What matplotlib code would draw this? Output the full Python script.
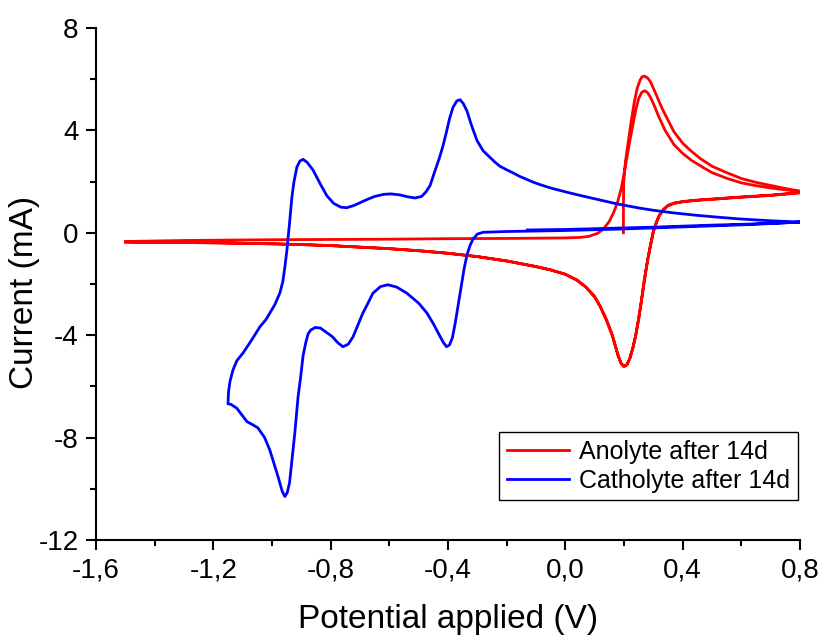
import matplotlib
matplotlib.use("Agg")
import matplotlib.pyplot as plt
from matplotlib.ticker import MultipleLocator, FuncFormatter

# Anolyte CV: start at 0.2 V, two sweeps between 0.8 V and -1.5 V
anolyte_v = [
    0.198, 0.198, 0.199, 0.205, 0.215, 0.225, 0.235, 0.245, 0.255, 0.262, 0.27, 0.28, 0.29, 0.30,
    0.315, 0.33, 0.35, 0.37, 0.40, 0.425, 0.46, 0.50, 0.55, 0.60, 0.65, 0.70, 0.75, 0.80,
    0.80, 0.75, 0.70, 0.60, 0.50, 0.44, 0.40, 0.37, 0.35, 0.335, 0.32, 0.31, 0.30, 0.29, 0.28,
    0.27, 0.26, 0.25, 0.24, 0.23, 0.22, 0.21, 0.20, 0.19, 0.18, 0.17, 0.16, 0.14, 0.12, 0.10,
    0.07, 0.04, 0.0, -0.05, -0.1, -0.2, -0.3, -0.4, -0.5, -0.6, -0.7, -0.8, -0.9, -1.0, -1.1,
    -1.2, -1.3, -1.4, -1.5,
    -1.5, -1.4, -1.3, -1.2, -1.0, -0.8, -0.6, -0.4, -0.2, 0.0, 0.05, 0.08, 0.11, 0.13, 0.15,
    0.165, 0.178, 0.19, 0.20, 0.21, 0.22, 0.23, 0.24, 0.25, 0.26, 0.27, 0.28, 0.29, 0.30, 0.32,
    0.34, 0.37, 0.40, 0.43, 0.47, 0.50, 0.55, 0.60, 0.65, 0.70, 0.75, 0.80,
    0.80, 0.75, 0.70, 0.60, 0.50, 0.44, 0.40, 0.37, 0.35, 0.335, 0.32, 0.31, 0.30, 0.29, 0.28,
    0.27, 0.26, 0.25, 0.24, 0.23, 0.22, 0.21, 0.20, 0.19, 0.18, 0.17, 0.16, 0.14, 0.12, 0.10,
    0.07, 0.04, 0.0, -0.05, -0.1, -0.2, -0.3, -0.4, -0.5, -0.6, -0.7, -0.8, -0.9, -1.0, -1.1,
    -1.2, -1.3, -1.4, -1.5,
]
anolyte_i = [
    0.0, 1.0, 2.0, 2.8, 3.6, 4.4, 5.1, 5.65, 5.97, 6.1, 6.12, 6.05, 5.9, 5.65,
    5.25, 4.85, 4.4, 3.95, 3.5, 3.23, 2.9, 2.6, 2.35, 2.12, 1.97, 1.85, 1.73, 1.63,
    1.58, 1.52, 1.47, 1.40, 1.32, 1.27, 1.22, 1.16, 1.07, 0.92, 0.68, 0.4, 0.05, -0.5, -1.1,
    -1.8, -2.6, -3.35, -4.0, -4.5, -4.9, -5.15, -5.22, -5.1, -4.8, -4.4, -4.0, -3.4, -2.9, -2.5,
    -2.12, -1.85, -1.62, -1.45, -1.32, -1.1, -0.93, -0.8, -0.7, -0.62, -0.56, -0.5, -0.46, -0.43, -0.41,
    -0.39, -0.38, -0.37, -0.36,
    -0.34, -0.32, -0.30, -0.29, -0.27, -0.26, -0.25, -0.23, -0.22, -0.20, -0.18, -0.14, -0.02, 0.15, 0.45,
    0.8, 1.2, 1.7, 2.3, 2.95, 3.6, 4.2, 4.8, 5.25, 5.48, 5.55, 5.48, 5.3, 5.05, 4.5,
    4.0, 3.45, 3.1, 2.83, 2.55, 2.35, 2.13, 1.95, 1.84, 1.75, 1.68, 1.61,
    1.56, 1.51, 1.46, 1.39, 1.31, 1.26, 1.21, 1.15, 1.06, 0.91, 0.67, 0.39, 0.04, -0.5, -1.1,
    -1.8, -2.6, -3.35, -4.0, -4.5, -4.9, -5.15, -5.22, -5.1, -4.8, -4.4, -4.0, -3.4, -2.9, -2.5,
    -2.12, -1.85, -1.62, -1.45, -1.32, -1.1, -0.93, -0.8, -0.7, -0.62, -0.56, -0.5, -0.46, -0.43, -0.41,
    -0.39, -0.38, -0.37, -0.36,
]

# Catholyte CV: start near -0.13 V, sweep to 0.8 V, down to -1.15 V, back to 0.8 V
catholyte_v = [
    -0.13, -0.05, 0.0, 0.1, 0.2, 0.3, 0.4, 0.5, 0.6, 0.7, 0.8,
    0.7, 0.6, 0.5, 0.4, 0.3, 0.2, 0.1, 0.0, -0.1, -0.2, -0.25, -0.28,
    -0.30, -0.315, -0.325, -0.335, -0.345, -0.355, -0.365, -0.375, -0.385, -0.395, -0.405,
    -0.415, -0.427, -0.45, -0.472, -0.50, -0.54, -0.575, -0.605, -0.63, -0.656, -0.675, -0.69,
    -0.707, -0.724, -0.74, -0.758, -0.775, -0.795, -0.813, -0.835, -0.853, -0.868, -0.877,
    -0.885, -0.894, -0.903, -0.911, -0.922, -0.932, -0.94, -0.948, -0.956, -0.965, -0.98,
    -0.995, -1.007, -1.025, -1.048, -1.065, -1.085, -1.10, -1.12, -1.14, -1.15,
    -1.148, -1.143, -1.133, -1.12, -1.099, -1.07, -1.041, -1.02, -1.007, -0.99, -0.973,
    -0.963, -0.956, -0.949, -0.945, -0.94, -0.932, -0.925, -0.915, -0.905, -0.894, -0.88,
    -0.86, -0.835, -0.813, -0.79, -0.765, -0.745, -0.72, -0.695, -0.676, -0.65, -0.62,
    -0.595, -0.564, -0.535, -0.512, -0.49, -0.475, -0.461, -0.445, -0.43, -0.417, -0.405,
    -0.395, -0.383, -0.37, -0.359, -0.348, -0.335, -0.32, -0.301, -0.28, -0.257, -0.24, -0.223,
    -0.2, -0.18, -0.155, -0.13, -0.11, -0.086, -0.05, 0.0, 0.05, 0.1, 0.14, 0.176, 0.25, 0.3,
    0.367, 0.45, 0.52, 0.596, 0.7, 0.8,
]
catholyte_i = [
    0.11, 0.12, 0.13, 0.16, 0.19, 0.22, 0.26, 0.30, 0.33, 0.37, 0.42,
    0.36, 0.31, 0.27, 0.23, 0.19, 0.15, 0.12, 0.09, 0.07, 0.05, 0.03, 0.02,
    -0.05, -0.25, -0.5, -0.85, -1.4, -2.1, -2.8, -3.5, -4.1, -4.38, -4.45,
    -4.3, -4.05, -3.55, -3.13, -2.75, -2.36, -2.12, -2.03, -2.1, -2.36, -2.8, -3.13,
    -3.6, -4.07, -4.35, -4.45, -4.3, -4.05, -3.9, -3.72, -3.7, -3.8, -3.95,
    -4.3, -4.8, -5.7, -6.4, -7.8, -8.9, -9.75, -10.15, -10.3, -10.1, -9.5,
    -8.95, -8.5, -8.0, -7.62, -7.5, -7.38, -7.15, -6.85, -6.7, -6.68,
    -6.2, -5.8, -5.36, -5.0, -4.7, -4.2, -3.67, -3.38, -3.13, -2.8, -2.35,
    -1.9, -1.33, -0.67, -0.2, 0.4, 1.4, 2.0, 2.57, 2.8, 2.87, 2.75,
    2.45, 1.9, 1.45, 1.15, 1.0, 0.98, 1.07, 1.2, 1.3, 1.42, 1.5,
    1.52, 1.48, 1.4, 1.36, 1.42, 1.6, 1.85, 2.4, 2.9, 3.4, 3.95,
    4.45, 4.9, 5.15, 5.2, 5.05, 4.75, 4.2, 3.6, 3.2, 2.95, 2.76, 2.6,
    2.46, 2.35, 2.2, 2.08, 1.98, 1.88, 1.75, 1.6, 1.46, 1.33, 1.23, 1.13, 0.97, 0.88,
    0.78, 0.68, 0.61, 0.54, 0.47, 0.42,
]

x_ticks = [-1.6, -1.2, -0.8, -0.4, 0.0, 0.4, 0.8]
y_ticks = [-12, -8, -4, 0, 4, 8]

plt.rcParams["font.family"] = ["Liberation Sans", "DejaVu Sans"]

fig = plt.figure(figsize=(8.23, 6.39), dpi=100)
ax = fig.add_axes([0.1166, 0.1549, 0.8555, 0.8013])

ax.plot(anolyte_v, anolyte_i, color="#ff0000", lw=2.0, label="Anolyte after 14d",
        solid_joinstyle="round")
ax.plot(catholyte_v, catholyte_i, color="#0000ff", lw=2.0, label="Catholyte after 14d",
        solid_joinstyle="round")

ax.set_xlim(-1.6, 0.8)
ax.set_ylim(-12, 8)
ax.set_xticks(x_ticks)
ax.set_yticks(y_ticks)
ax.xaxis.set_minor_locator(MultipleLocator(0.2))
ax.yaxis.set_minor_locator(MultipleLocator(2))
ax.xaxis.set_major_formatter(FuncFormatter(lambda v, p: f"{v:.1f}".replace(".", ",").replace("-0,0", "0,0")))
ax.yaxis.set_major_formatter(FuncFormatter(lambda v, p: f"{v:.0f}"))

for side in ("top", "right"):
    ax.spines[side].set_visible(False)
for side in ("left", "bottom"):
    ax.spines[side].set_linewidth(1.5)

ax.tick_params(which="major", direction="out", length=7.5, width=1.5, labelsize=20)
ax.tick_params(axis="x", which="major", pad=5)
ax.tick_params(axis="y", which="major", pad=5)
ax.tick_params(which="minor", direction="out", length=4, width=1.5)

ax.set_xlabel("Potential applied (V)", fontsize=24, labelpad=15)
ax.set_ylabel("Current (mA)", fontsize=24)
ax.yaxis.set_label_coords(-0.0795, 0.4834)

leg = ax.legend(loc="lower right", bbox_to_anchor=(0.997, 0.078), fontsize=18,
                frameon=True, fancybox=False, edgecolor="black", framealpha=1,
                borderpad=0.3, labelspacing=0.2, handlelength=2.5, handletextpad=0.4,
                borderaxespad=0)
leg.get_frame().set_linewidth(1.0)

fig.savefig("out.png", dpi=100)
